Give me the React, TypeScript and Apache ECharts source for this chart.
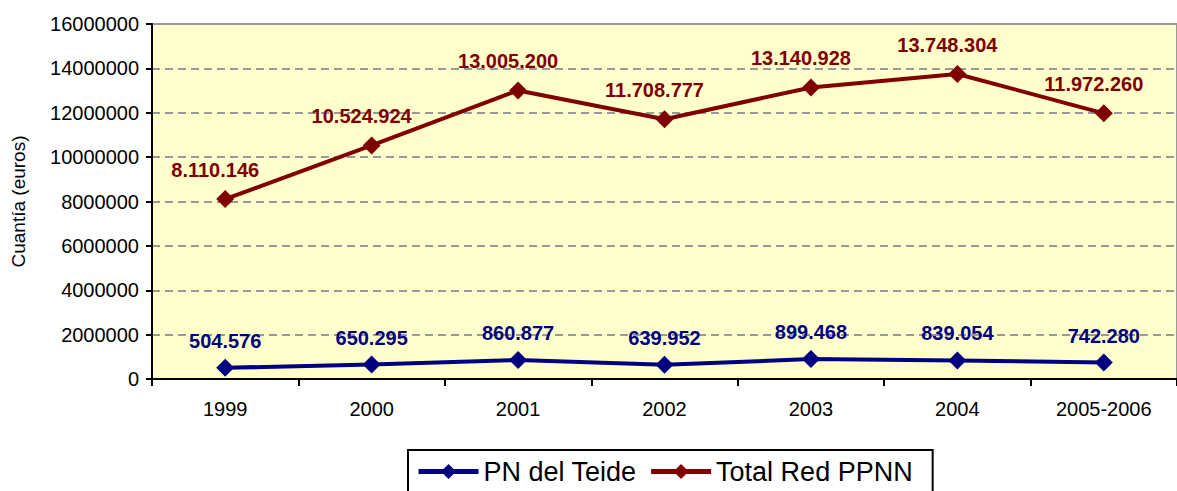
import React, { useEffect, useRef } from "react";
import * as echarts from "echarts";

const categories = ["1999", "2000", "2001", "2002", "2003", "2004", "2005-2006"];
const teideValues = [504576, 650295, 860877, 639952, 899468, 839054, 742280];
const redValues = [8110146, 10524924, 13005200, 11708777, 13140928, 13748304, 11972260];
const seriesNames = ["PN del Teide", "Total Red PPNN"];
const yAxisName = "Cuantía (euros)";

const fmt = (v: number) => String(Math.round(v)).replace(/\B(?=(\d{3})+(?!\d))/g, ".");

export default function App() {
  const ref = useRef<HTMLDivElement>(null);
  useEffect(() => {
    document.body.style.margin = "0";
    const chart = echarts.init(ref.current!, null, { renderer: "svg" });
    const font = "Arial, 'Liberation Sans', sans-serif";
    chart.setOption({
      animation: false,
      textStyle: { fontFamily: font },
      grid: {
        left: 152,
        top: 24,
        right: 0,
        bottom: 112,
        show: true,
        backgroundColor: "#FFFFCC",
        borderColor: "#999",
        borderWidth: 2,
      },
      legend: {
        left: 408,
        top: 450,
        data: seriesNames,
        itemWidth: 60,
        itemHeight: 19,
        itemGap: 12,
        padding: [8, 20, 20, 8],
        borderColor: "#000",
        borderWidth: 2,
        lineStyle: { width: 5 },
        textStyle: { fontSize: 27, color: "#000", fontFamily: font },
      },
      xAxis: {
        type: "category",
        data: categories,
        boundaryGap: true,
        axisLine: { lineStyle: { color: "#000", width: 2 } },
        axisTick: { show: true, length: 7, lineStyle: { color: "#000", width: 2 } },
        axisLabel: { color: "#000", fontSize: 20, margin: 20 },
      },
      yAxis: {
        type: "value",
        min: 0,
        max: 16000000,
        interval: 2000000,
        name: yAxisName,
        nameLocation: "middle",
        nameGap: 124,
        nameTextStyle: { color: "#000", fontSize: 19 },
        axisLine: { show: true, lineStyle: { color: "#000", width: 2 } },
        axisTick: { show: true, length: 6, lineStyle: { color: "#000", width: 2 } },
        axisLabel: { color: "#000", fontSize: 20, margin: 13, formatter: (v: number) => String(v) },
        splitLine: { show: true, lineStyle: { color: "#999", type: [8, 5], width: 2 } },
      },
      series: [
        {
          name: seriesNames[0],
          type: "line",
          data: teideValues,
          symbol: "diamond",
          symbolSize: 18,
          color: "#000080",
          lineStyle: { width: 4, color: "#000080" },
          itemStyle: { color: "#000080" },
          label: {
            show: true,
            position: "top",
            distance: 8,
            color: "#000080",
            fontSize: 20,
            fontWeight: "bold",
            formatter: (p: any) => fmt(p.value),
          },
        },
        {
          name: seriesNames[1],
          type: "line",
          data: redValues,
          symbol: "diamond",
          symbolSize: 18,
          color: "#800000",
          lineStyle: { width: 4, color: "#800000" },
          itemStyle: { color: "#800000" },
          label: {
            show: true,
            position: "top",
            distance: 10,
            offset: [-10, 0],
            color: "#800000",
            fontSize: 20,
            fontWeight: "bold",
            formatter: (p: any) => fmt(p.value),
          },
        },
      ],
    });
    return () => chart.dispose();
  }, []);
  return <div ref={ref} style={{ width: 1177, height: 491 }} />;
}
